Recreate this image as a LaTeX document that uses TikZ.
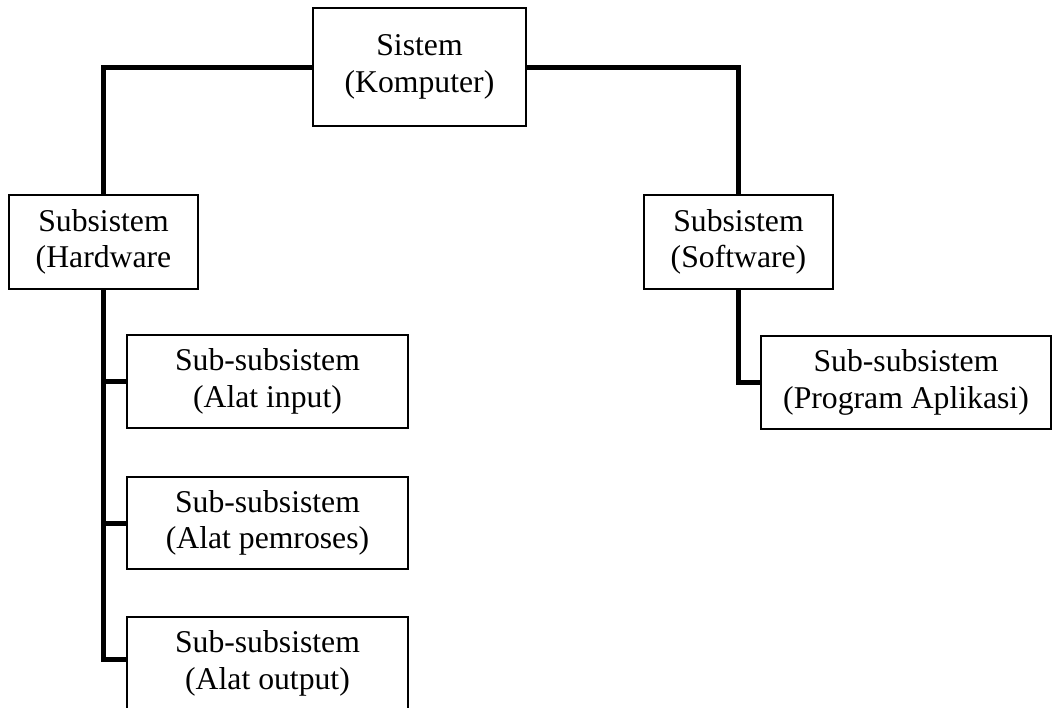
\documentclass[tikz,border=0pt]{standalone}
\usepackage{fontspec}
\setmainfont{Liberation Serif}
\begin{document}
\begin{tikzpicture}[x=1pt,y=-1pt,
  unit/.style={draw, line width=1.6pt, align=center, inner sep=0pt,
    font=\fontsize{31.7pt}{36.5pt}\selectfont},
  link/.style={line width=5pt, line join=miter}]
\useasboundingbox (0,0) rectangle (1057,707);

% boxes
\node[unit, minimum width=213pt, minimum height=118pt] (sys) at (419.5,67) {Sistem\\(Komputer)};
\node[unit, minimum width=189pt, minimum height=94pt] (hw) at (103.5,242) {Subsistem\\(Hardware};
\node[unit, minimum width=189pt, minimum height=94pt] (sw) at (738.5,242) {Subsistem\\(Software)};
\node[unit, minimum width=281pt, minimum height=93pt] (inp) at (267.5,381.5) {Sub-subsistem\\(Alat input)};
\node[unit, minimum width=281pt, minimum height=92pt] (proc) at (267.5,523) {Sub-subsistem\\(Alat pemroses)};
\node[unit, minimum width=281pt, minimum height=93pt] (outp) at (267.5,663.5) {Sub-subsistem\\(Alat output)};
\node[unit, minimum width=290pt, minimum height=93pt] (app) at (906,382.5) {Sub-subsistem\\(Program Aplikasi)};

\coordinate (outjoin) at ([yshift=4.5pt]outp.west);

% connectors
\draw[link] (sys.west) -| (hw.north);
\draw[link] (sys.east) -| (sw.north);
\draw[link] (hw.south) |- (outjoin);
\draw[link] (hw.south |- inp.west) -- (inp.west);
\draw[link] (hw.south |- proc.west) -- (proc.west);
\draw[link] (sw.south) |- (app.west);
\end{tikzpicture}
\end{document}
